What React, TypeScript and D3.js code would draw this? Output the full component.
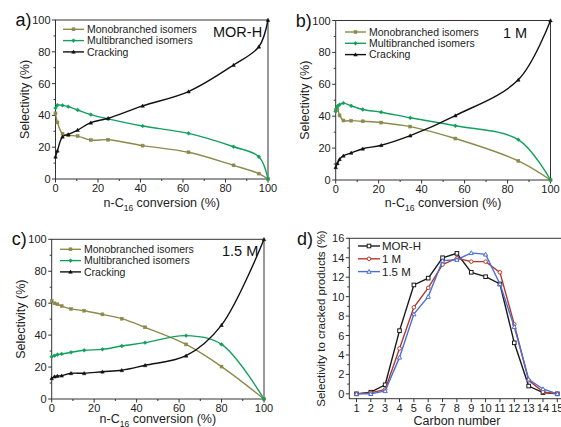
import React from "react";
import * as d3 from "d3";

const FONT = "'Liberation Sans', Arial, sans-serif";

// Panel a (MOR-H)
const aConv = [0, 0.9, 3.3, 6, 10.4, 16.6, 24.8, 41, 62.6, 83.8, 95.7, 100];
const aMono = [41.3, 35.6, 28.5, 27.5, 27, 24.5, 24.7, 21, 16.8, 8.6, 3.4, 0];
const aMulti = [44.6, 46.5, 46.3, 45.5, 43.4, 40.5, 37.8, 33.3, 28.7, 20.3, 14, 0];
const aCrack = [14, 17.8, 26.6, 28, 30.8, 35.4, 38.2, 46, 55, 71.7, 83.2, 100];

// Panel b (1 M)
const bConv = [0, 0.8, 1.8, 3.6, 7.2, 12.6, 21.2, 34.7, 55.7, 85, 100];
const bMono = [44, 44.5, 40.5, 37.3, 37.2, 36.8, 36, 33.5, 26, 12, 0];
const bMulti = [43, 46.3, 47.2, 48.2, 46.5, 44.2, 42.5, 39, 34, 25.3, 0];
const bCrack = [8, 10.5, 13, 15.2, 17, 19.6, 21.8, 27.8, 40.4, 62.8, 100];

// Panel c (1.5 M)
const cConv = [0, 1.3, 2.7, 4.7, 9.1, 15.3, 23.9, 33, 44, 63.3, 80, 100];
const cMono = [61.4, 59.9, 59.3, 58.2, 56.4, 55.3, 53, 50.3, 44.9, 34.2, 20.3, 0];
const cMulti = [26.5, 27.1, 27.8, 28.2, 29.2, 30.5, 31.1, 33.2, 35.3, 39.7, 34.2, 0];
const cCrack = [12.9, 14, 14.4, 14.6, 16.1, 16.1, 17.1, 18, 21.1, 27.1, 46.3, 100];

// Panel d
const carbonNumbers = [1, 2, 3, 4, 5, 6, 7, 8, 9, 10, 11, 12, 13, 14, 15];
const dMorH = [0, 0.17, 0.93, 6.5, 11.2, 11.9, 14.0, 14.45, 12.5, 12.05, 11.3, 5.25, 0.8, 0.13, 0];
const d1M = [0, 0.1, 0.45, 4.67, 8.9, 10.9, 13.3, 13.95, 13.6, 13.6, 12.5, 7.15, 1.4, 0.2, 0];
const d15M = [0, 0.0, 0.3, 3.75, 8.2, 10, 13.7, 13.8, 14.5, 14.35, 11.3, 6.9, 1.5, 0.5, 0];

const seriesNames = ["Monobranched isomers", "Multibranched isomers", "Cracking"];
const dNames = ["MOR-H", "1 M", "1.5 M"];
const selTicks = [0, 20, 40, 60, 80, 100];
const dYTicks = [0, 2, 4, 6, 8, 10, 12, 14, 16];

const C_MONO = "#8c8a4c";
const C_MULTI = "#12a05c";
const C_CRACK = "#111111";
const C_D = ["#1a1a1a", "#b23a2c", "#4a6fd6"];
const AXIS = "#333";

type Marker = "square" | "diamond" | "triangle" | "circle";

function MarkerShape({ type, x, y, color, size, open }: { type: Marker; x: number; y: number; color: string; size: number; open?: boolean }) {
  const fill = open ? "white" : color;
  const sw = open ? 1 : 0.5;
  if (type === "square")
    return <rect x={x - size / 2} y={y - size / 2} width={size} height={size} fill={fill} stroke={color} strokeWidth={sw} />;
  if (type === "circle") return <circle cx={x} cy={y} r={size / 2} fill={fill} stroke={color} strokeWidth={sw} />;
  if (type === "diamond") {
    const s = size / 2 + 0.4;
    return <path d={`M${x},${y - s}L${x + s},${y}L${x},${y + s}L${x - s},${y}Z`} fill={fill} stroke={color} strokeWidth={sw} />;
  }
  const s = size / 2 + 0.3;
  return <path d={`M${x},${y - s}L${x + s},${y + s * 0.8}L${x - s},${y + s * 0.8}Z`} fill={fill} stroke={color} strokeWidth={sw} />;
}

function Frame({ x0, x1, y0, y1 }: { x0: number; x1: number; y0: number; y1: number }) {
  return <rect x={x0} y={y0} width={x1 - x0} height={y1 - y0} fill="none" stroke={AXIS} strokeWidth={1} />;
}

function SelPanel({ left, right, top, bottom, conv, mono, multi, crack, label, tag, tagX, legX, legY, xLabelY }: any) {
  const x = d3.scaleLinear().domain([0, 100]).range([left, right]);
  const y = d3.scaleLinear().domain([0, 100]).range([bottom, top]);
  const curve = d3.curveCatmullRom.alpha(0.5);
  const line = (vals: number[]) =>
    d3.line<number>().x((_, i) => x(conv[i])).y((v) => y(v)).curve(curve)(vals) || "";
  const series = [
    { vals: mono, color: C_MONO, m: "square" as Marker },
    { vals: multi, color: C_MULTI, m: "diamond" as Marker },
    { vals: crack, color: C_CRACK, m: "triangle" as Marker },
  ];
  const minor = d3.range(10, 100, 20);
  return (
    <g fontFamily={FONT}>
      <Frame x0={left} x1={right} y0={top} y1={bottom} />
      {selTicks.map((t) => (
        <g key={"x" + t}>
          <line x1={x(t)} x2={x(t)} y1={bottom} y2={bottom + 3.5} stroke={AXIS} />
          <text x={x(t)} y={bottom + 13} fontSize={11} textAnchor="middle" fill="#222">{t}</text>
          <line x1={left} x2={left - 3.5} y1={y(t)} y2={y(t)} stroke={AXIS} />
          <text x={left - 5} y={y(t) + 4} fontSize={11} textAnchor="end" fill="#222">{t}</text>
        </g>
      ))}
      {minor.map((t) => (
        <g key={"m" + t}>
          <line x1={x(t)} x2={x(t)} y1={bottom} y2={bottom + 2} stroke={AXIS} />
          <line x1={left} x2={left - 2} y1={y(t)} y2={y(t)} stroke={AXIS} />
        </g>
      ))}
      {series.map((s, si) => (
        <g key={si}>
          <path d={line(s.vals)} fill="none" stroke={s.color} strokeWidth={1.4} />
          {s.vals.map((v: number, i: number) => (
            <MarkerShape key={i} type={s.m} x={x(conv[i])} y={y(v)} color={s.color} size={3} />
          ))}
        </g>
      ))}
      {series.map((s, si) => (
        <g key={"l" + si}>
          <line x1={legX} x2={legX + 21} y1={legY + si * 11.3} y2={legY + si * 11.3} stroke={s.color} strokeWidth={1.4} />
          <MarkerShape type={s.m} x={legX + 10.5} y={legY + si * 11.3} color={s.color} size={3} />
          <text x={legX + 24} y={legY + si * 11.3 + 3.6} fontSize={10.5} fill="#222">{seriesNames[si]}</text>
        </g>
      ))}
      <text x={tagX} y={top + 17} fontSize={14.5} fill="#111">{tag}</text>
      <text x={left - 40} y={top + 6} fontSize={18} fill="#111">{label}</text>
      <text transform={`translate(${left - 27},${(top + bottom) / 2}) rotate(-90)`} fontSize={12.5} textAnchor="middle" fill="#222">Selectivity (%)</text>
      <text x={(left + right) / 2} y={xLabelY} fontSize={12.5} textAnchor="middle" fill="#222">
        n-C<tspan fontSize={8.5} dy={3.5}>16</tspan><tspan dy={-3.5}> conversion (%)</tspan>
      </text>
    </g>
  );
}

function CarbonPanel() {
  const left = 349.3, right = 564.5, top = 238.3, bottom = 398.7;
  const x = d3.scaleLinear().domain([0.5, 15.5]).range([left, right]);
  const y = d3.scaleLinear().domain([-0.5, 16]).range([bottom, top]);
  const line = (vals: number[]) =>
    d3.line<number>().x((_, i) => x(carbonNumbers[i])).y((v) => y(v))(vals) || "";
  const series = [
    { vals: dMorH, color: C_D[0], m: "square" as Marker },
    { vals: d1M, color: C_D[1], m: "circle" as Marker },
    { vals: d15M, color: C_D[2], m: "triangle" as Marker },
  ];
  const legX = 358, legY = 246;
  return (
    <g fontFamily={FONT}>
      <Frame x0={left} x1={right} y0={top} y1={bottom} />
      {carbonNumbers.map((t) => (
        <g key={"x" + t}>
          <line x1={x(t)} x2={x(t)} y1={bottom} y2={bottom + 3.5} stroke={AXIS} />
          <text x={x(t)} y={bottom + 13} fontSize={11} textAnchor="middle" fill="#222">{t}</text>
        </g>
      ))}
      {dYTicks.map((t) => (
        <g key={"y" + t}>
          <line x1={left} x2={left - 3.5} y1={y(t)} y2={y(t)} stroke={AXIS} />
          <text x={left - 5} y={y(t) + 4} fontSize={11} textAnchor="end" fill="#222">{t}</text>
          {t < 16 && <line x1={left} x2={left - 2} y1={y(t + 1)} y2={y(t + 1)} stroke={AXIS} />}
        </g>
      ))}
      {series.map((s, si) => (
        <g key={si}>
          <path d={line(s.vals)} fill="none" stroke={s.color} strokeWidth={1.4} />
          {s.vals.map((v: number, i: number) => (
            <MarkerShape key={i} type={s.m} x={x(carbonNumbers[i])} y={y(v)} color={s.color} size={3.6} open />
          ))}
        </g>
      ))}
      {series.map((s, si) => (
        <g key={"l" + si}>
          <line x1={legX} x2={legX + 22} y1={legY + si * 12.8} y2={legY + si * 12.8} stroke={s.color} strokeWidth={1.4} />
          <MarkerShape type={s.m} x={legX + 11} y={legY + si * 12.8} color={s.color} size={3.6} open />
          <text x={legX + 24} y={legY + si * 12.8 + 4} fontSize={11.5} fill="#222">{dNames[si]}</text>
        </g>
      ))}
      <text x={297} y={245} fontSize={18} fill="#111">d)</text>
      <text transform={`translate(325,${(top + bottom) / 2}) rotate(-90)`} fontSize={11.5} textAnchor="middle" fill="#222">Selectivity to cracked products (%)</text>
      <text x={457} y={425} fontSize={12.5} textAnchor="middle" fill="#222">Carbon number</text>
    </g>
  );
}

export default function App() {
  return (
    <svg width={561} height={427} style={{ position: "absolute", left: 0, top: 0, background: "white" }}>
      <rect width={561} height={427} fill="white" />
      <SelPanel left={55.5} right={268} top={20} bottom={179} conv={aConv} mono={aMono} multi={aMulti} crack={aCrack}
        label="a)" tag="MOR-H" tagX={213} legX={63} legY={29.3} xLabelY={207} />
      <SelPanel left={335.7} right={550.5} top={20.5} bottom={180} conv={bConv} mono={bMono} multi={bMulti} crack={bCrack}
        label="b)" tag="1 M" tagX={503} legX={345} legY={32} xLabelY={207} />
      <SelPanel left={51.7} right={264} top={239.3} bottom={399} conv={cConv} mono={cMono} multi={cMulti} crack={cCrack}
        label="c)" tag="1.5 M" tagX={222} legX={60} legY={249.3} xLabelY={423} />
      <CarbonPanel />
    </svg>
  );
}
